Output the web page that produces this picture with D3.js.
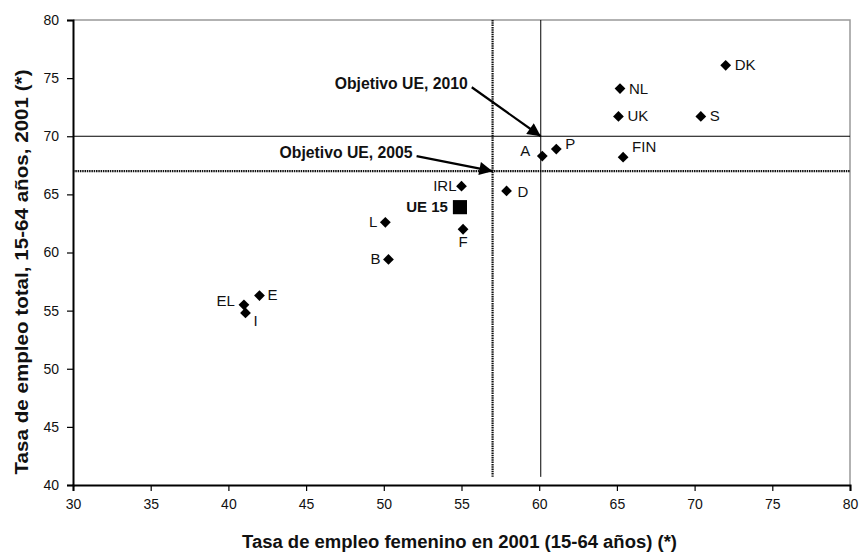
<!DOCTYPE html>
<meta charset="utf-8" />
<script src="https://d3js.org/d3.v7.min.js"></script>
<style>
  body { margin: 0; background: #fff; }
  text { font-family: "Liberation Sans", Arial, sans-serif; }
</style>
<body>
  <div id="chart"></div>
  <script>
    // countries and values
    const countries = ["DK", "NL", "UK", "S", "A", "P", "FIN", "D", "IRL", "L", "F", "B", "E", "EL", "I"];
    const femaleRate = [72.0, 65.2, 65.1, 70.4, 60.2, 61.1, 65.4, 57.9, 55.0, 50.1, 55.1, 50.3, 42.0, 41.0, 41.1];
    const totalRate = [76.1, 74.1, 71.7, 71.7, 68.3, 68.9, 68.2, 65.3, 65.7, 62.6, 62.0, 59.4, 56.3, 55.5, 54.8];
    const eu15 = { name: "UE 15", female: 54.9, total: 63.9 };

    // EU targets (women, total)
    const targetNames = ["Objetivo UE, 2005", "Objetivo UE, 2010"];
    const targetFemale = [57, 60.1];
    const targetTotal = [67, 70];

    const xTicks = [30, 35, 40, 45, 50, 55, 60, 65, 70, 75, 80];
    const yTicks = [40, 45, 50, 55, 60, 65, 70, 75, 80];

    // label placement around each marker
    const labelPos = {
      DK: [9, 5, "start"], NL: [9, 5, "start"], UK: [9, 5, "start"], S: [9, 5, "start"],
      A: [-12, 0, "end"], P: [9, 0, "start"], FIN: [9, -5, "start"], D: [11, 6, "start"],
      IRL: [-5, 5, "end"], L: [-8, 5, "end"], F: [0, 18, "middle"], B: [-8, 5, "end"],
      E: [8, 4, "start"], EL: [-9, 1, "end"], I: [8, 13, "start"]
    };

    var margin = { top: 20, right: 9, bottom: 68, left: 73 },
      W = 859, H = 553,
      width = W - margin.left - margin.right,
      height = H - margin.top - margin.bottom;

    var svg = d3.select("#chart").append("svg")
      .attr("width", W).attr("height", H);
    var g = svg.append("g")
      .attr("transform", "translate(" + margin.left + "," + margin.top + ")");

    var x = d3.scaleLinear().domain([30, 80]).range([0, width]);
    var y = d3.scaleLinear().domain([40, 80]).range([height, 0]);

    // plot frame (top/right grey)
    g.append("path")
      .attr("d", "M0,0H" + width + "V" + height)
      .attr("fill", "none").attr("stroke", "#999").attr("stroke-width", 1.5);

    // target lines
    // 2005: dotted
    g.append("line")
      .attr("x1", x(30)).attr("x2", x(80))
      .attr("y1", y(targetTotal[0])).attr("y2", y(targetTotal[0]))
      .attr("stroke", "#111").attr("stroke-width", 2.2).attr("stroke-dasharray", "1.5,0.8");
    g.append("line")
      .attr("x1", x(targetFemale[0])).attr("x2", x(targetFemale[0]))
      .attr("y1", y(80)).attr("y2", y(40.7))
      .attr("stroke", "#111").attr("stroke-width", 2.2).attr("stroke-dasharray", "1.5,0.8");
    // 2010: solid
    g.append("line")
      .attr("x1", x(30)).attr("x2", x(80))
      .attr("y1", y(targetTotal[1])).attr("y2", y(targetTotal[1]))
      .attr("stroke", "#000").attr("stroke-width", 1);
    g.append("line")
      .attr("x1", x(targetFemale[1])).attr("x2", x(targetFemale[1]))
      .attr("y1", y(80)).attr("y2", y(40.7))
      .attr("stroke", "#000").attr("stroke-width", 1);

    // axes
    var xAxis = g.append("g")
      .attr("transform", "translate(0," + height + ")")
      .call(d3.axisBottom(x).tickValues(xTicks).tickSize(6).tickPadding(8));
    var yAxis = g.append("g")
      .call(d3.axisLeft(y).tickValues(yTicks).tickSize(6).tickPadding(8));
    [xAxis, yAxis].forEach(function (a) {
      a.select(".domain").attr("stroke", "#000").attr("stroke-width", 2);
      a.selectAll(".tick line").attr("stroke", "#000").attr("stroke-width", 1.2);
      a.selectAll("text").attr("fill", "#111")
        .style("font-size", "14px")
        .style("font-family", "'Liberation Sans', Arial, sans-serif");
    });

    // arrows
    svg.append("defs").append("marker")
      .attr("id", "arrow").attr("viewBox", "0 0 10 10")
      .attr("refX", 10).attr("refY", 5)
      .attr("markerWidth", 7.5).attr("markerHeight", 6)
      .attr("markerUnits", "strokeWidth")
      .attr("orient", "auto")
      .append("path").attr("d", "M0,0L10,5L0,10z").attr("fill", "#000");

    var noteOffsets = [[-76, -15], [-69, -49]];
    targetNames.forEach(function (name, i) {
      var tx = x(targetFemale[i]), ty = y(targetTotal[i]);
      var sx = tx + noteOffsets[i][0], sy = ty + noteOffsets[i][1];
      g.append("line")
        .attr("x1", sx).attr("y1", sy).attr("x2", tx).attr("y2", ty)
        .attr("stroke", "#000").attr("stroke-width", 2.2)
        .attr("marker-end", "url(#arrow)");
      g.append("text")
        .attr("x", sx - 4).attr("y", sy + 2)
        .attr("text-anchor", "end")
        .style("font-size", "16px").style("font-weight", "bold")
        .attr("textLength", 133).attr("lengthAdjust", "spacingAndGlyphs")
        .attr("fill", "#111")
        .text(name);
    });

    // country markers
    var diamond = d3.symbol().type(d3.symbolSquare).size(58);
    var pts = countries.map(function (c, i) {
      return { name: c, fx: femaleRate[i], ty: totalRate[i] };
    });
    g.selectAll(".pt").data(pts).enter().append("path")
      .attr("class", "pt")
      .attr("d", diamond)
      .attr("transform", function (d) {
        return "translate(" + x(d.fx) + "," + y(d.ty) + ") rotate(45)";
      })
      .attr("fill", "#000");

    g.selectAll(".lbl").data(pts).enter().append("text")
      .attr("class", "lbl")
      .attr("x", function (d) { return x(d.fx) + labelPos[d.name][0]; })
      .attr("y", function (d) { return y(d.ty) + labelPos[d.name][1]; })
      .attr("text-anchor", function (d) { return labelPos[d.name][2]; })
      .style("font-size", "15px")
      .attr("fill", "#111")
      .text(function (d) { return d.name; });

    // EU-15 average
    g.append("path")
      .attr("d", d3.symbol().type(d3.symbolSquare).size(200))
      .attr("transform", "translate(" + x(eu15.female) + "," + y(eu15.total) + ")")
      .attr("fill", "#000");
    g.append("text")
      .attr("x", x(eu15.female) - 12).attr("y", y(eu15.total) + 5)
      .attr("text-anchor", "end")
      .style("font-size", "15px").style("font-weight", "bold")
      .attr("fill", "#111")
      .text(eu15.name);

    // axis titles
    svg.append("text")
      .attr("x", margin.left + width / 2 - 2).attr("y", 548)
      .attr("text-anchor", "middle")
      .style("font-size", "18px").style("font-weight", "bold")
      .attr("textLength", 435).attr("lengthAdjust", "spacingAndGlyphs")
      .attr("fill", "#111")
      .text("Tasa de empleo femenino en 2001 (15-64 años) (*)");
    svg.append("text")
      .attr("transform", "translate(28,272) rotate(-90)")
      .attr("text-anchor", "middle")
      .style("font-size", "19px").style("font-weight", "bold")
      .attr("textLength", 405).attr("lengthAdjust", "spacingAndGlyphs")
      .attr("fill", "#111")
      .text("Tasa de empleo total, 15-64 años, 2001 (*)");
  </script>
</body>
